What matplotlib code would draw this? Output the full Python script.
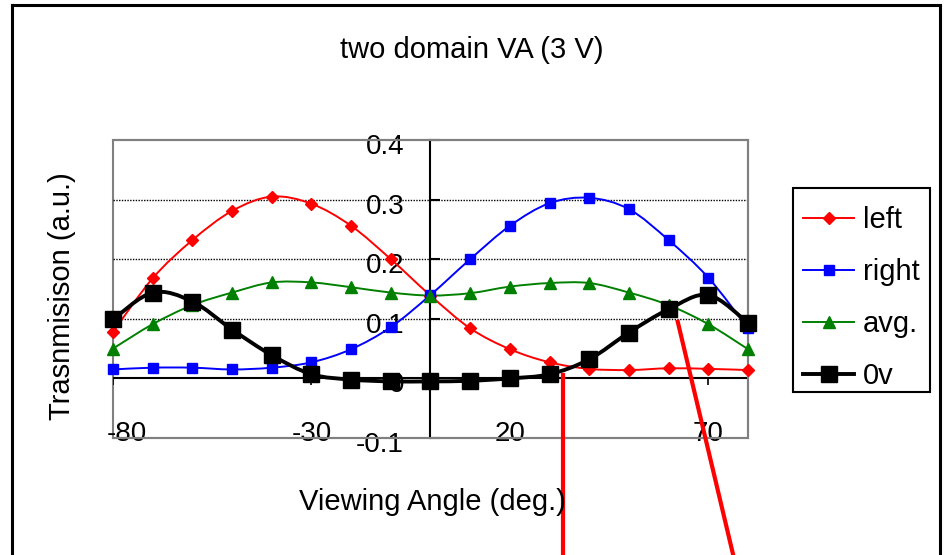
import matplotlib
matplotlib.use("Agg")
import numpy as np
import matplotlib.pyplot as plt
from matplotlib.path import Path
from matplotlib.patches import PathPatch, Rectangle
from matplotlib.lines import Line2D
from matplotlib import lines as mlines
from matplotlib.transforms import ScaledTranslation

plt.rcParams['font.family'] = ['Liberation Sans', 'DejaVu Sans']

# viewing angle (deg.) and transmission of each domain
angle = [-80, -70, -60, -50, -40, -30, -20, -10, 0, 10, 20, 30, 40, 50, 60, 70, 80]
left = [0.078, 0.168, 0.232, 0.281, 0.305, 0.293, 0.256, 0.200, 0.139,
        0.084, 0.049, 0.027, 0.016, 0.014, 0.017, 0.016, 0.014]
right = [0.015, 0.018, 0.018, 0.015, 0.018, 0.027, 0.049, 0.086, 0.140,
         0.200, 0.256, 0.294, 0.303, 0.284, 0.232, 0.169, 0.084]
avg = [0.050, 0.091, 0.123, 0.144, 0.161, 0.161, 0.153, 0.144, 0.139,
       0.143, 0.154, 0.160, 0.160, 0.144, 0.123, 0.091, 0.049]
zero_v = [0.099, 0.144, 0.129, 0.082, 0.039, 0.007, -0.002, -0.005, -0.005,
          -0.004, 0.000, 0.007, 0.032, 0.077, 0.116, 0.140, 0.093]

x_ticks = [-80, -30, 20, 70]
y_ticks = [-0.1, 0, 0.1, 0.2, 0.3, 0.4]
y_tick_labels = ["-0.1", "0", "0.1", "0.2", "0.3", "0.4"]
grid_levels = [0.1, 0.2, 0.3]

# red pointer lines running off the bottom of the chart
pointer1_x = [33.4, 33.4]
pointer1_y = [0.006, -0.30]
pointer2_x = [62.3, 76.4]
pointer2_y = [0.095, -0.30]


def smooth_path(xs, ys):
    # Catmull-Rom style bezier through the points (like Excel "smoothed line")
    pts = np.column_stack([np.asarray(xs, float), np.asarray(ys, float)])
    n = len(pts)
    verts = [pts[0]]
    codes = [Path.MOVETO]
    for i in range(n - 1):
        p0 = pts[i - 1] if i > 0 else pts[i]
        p1 = pts[i]
        p2 = pts[i + 1]
        p3 = pts[i + 2] if i + 2 < n else pts[i + 1]
        verts += [p1 + (p2 - p0) / 6.0, p2 - (p3 - p1) / 6.0, p2]
        codes += [Path.CURVE4] * 3
    return Path(verts, codes)


fig = plt.figure(figsize=(9.45, 5.55), dpi=100)
ax = fig.add_axes([113 / 945, 117 / 555, 635 / 945, 298 / 555])
ax.set_xlim(-80, 80)
ax.set_ylim(-0.1, 0.4)

# plot-area frame
for s in ['top', 'right', 'bottom']:
    ax.spines[s].set_color('#808080')
    ax.spines[s].set_linewidth(1.5)
ax.add_patch(Rectangle((0, 0), 1, 1, transform=ax.transAxes, fill=False,
                       ec='#808080', lw=1.5, zorder=0.5, clip_on=False))

# value axis crosses at angle 0
ax.spines['left'].set_position(('data', 0))
ax.spines['left'].set_color('black')
ax.spines['left'].set_linewidth(1.5)
ax.set_yticks(y_ticks)
ax.set_yticklabels(y_tick_labels)
ax.tick_params(axis='y', direction='in', length=7, width=1.5, pad=19,
               labelsize=20)
for lab in ax.get_yticklabels():
    lab.set_transform(lab.get_transform() +
                      ScaledTranslation(0, -4 / 100, fig.dpi_scale_trans))

ax.set_xticks(x_ticks)
ax.set_xticklabels([str(v) for v in x_ticks])
ax.tick_params(axis='x', length=0, pad=-12, labelsize=20)
first = ax.get_xticklabels()[0]
first.set_transform(first.get_transform() +
                    ScaledTranslation(14 / 100, 0, fig.dpi_scale_trans))

for g in grid_levels:
    ax.axhline(g, color='black', lw=1, ls=(0, (1, 1)), zorder=1)
ax.axhline(0, color='black', lw=1.5, zorder=1)
ax.plot(x_ticks, [0] * len(x_ticks), ls='none', marker=mlines.TICKDOWN,
        ms=5, mew=1.2, color='black', zorder=1)

series = [
    (left, 'left', 'red', 'D', 6.5, 1.4),
    (right, 'right', 'blue', 's', 7, 1.4),
    (avg, 'avg.', 'green', '^', 8.5, 1.4),
    (zero_v, '0v', 'black', 's', 12, 2.8),
]
handles = []
for vals, name, col, mk, ms, lw in series:
    ax.add_patch(PathPatch(smooth_path(angle, vals), fill=False, ec=col,
                           lw=lw, zorder=2, capstyle='round', joinstyle='round'))
    ax.plot(angle, vals, ls='none', marker=mk, ms=ms, color=col,
            mec=col, zorder=3, clip_on=False)
    handles.append(Line2D([], [], color=col, lw=lw, marker=mk, ms=ms,
                          label=name))

ax.plot(pointer1_x, pointer1_y, color='red', lw=3, clip_on=False, zorder=5)
ax.plot(pointer2_x, pointer2_y, color='red', lw=3, clip_on=False, zorder=5)

fig.text(472 / 945, 1 - 50 / 555, 'two domain VA (3 V)', ha='center',
         va='center', fontsize=21)
fig.text(432 / 945, 1 - 502 / 555, 'Viewing Angle (deg.)', ha='center',
         va='center', fontsize=21)
fig.text(62 / 945, 1 - 296 / 555, 'Trasnmisison (a.u.)', ha='center',
         va='center', fontsize=21, rotation=90)

# legend entries plus a separately drawn box
ax.legend(handles=handles, loc='upper left',
          bbox_to_anchor=(793 / 945, 1 - 196 / 555),
          bbox_transform=fig.transFigure, borderaxespad=0,
          fontsize=21, frameon=False,
          handlelength=1.75, handletextpad=0.3, labelspacing=0.82,
          borderpad=0.35)
fig.add_artist(Rectangle((793 / 945, 1 - 392 / 555), 137 / 945, 204 / 555,
                         transform=fig.transFigure, fill=False,
                         ec='black', lw=1.5))

# outer chart border
border = dict(color='black', lw=2.2, transform=fig.transFigure)
fig.add_artist(Line2D([12 / 945, 12 / 945], [0, 1 - 5 / 555], **border))
fig.add_artist(Line2D([12 / 945, 940 / 945], [1 - 5 / 555, 1 - 5 / 555], **border))
fig.add_artist(Line2D([940 / 945, 940 / 945], [0, 1 - 5 / 555], **border))

fig.savefig('out.png', dpi=100)
